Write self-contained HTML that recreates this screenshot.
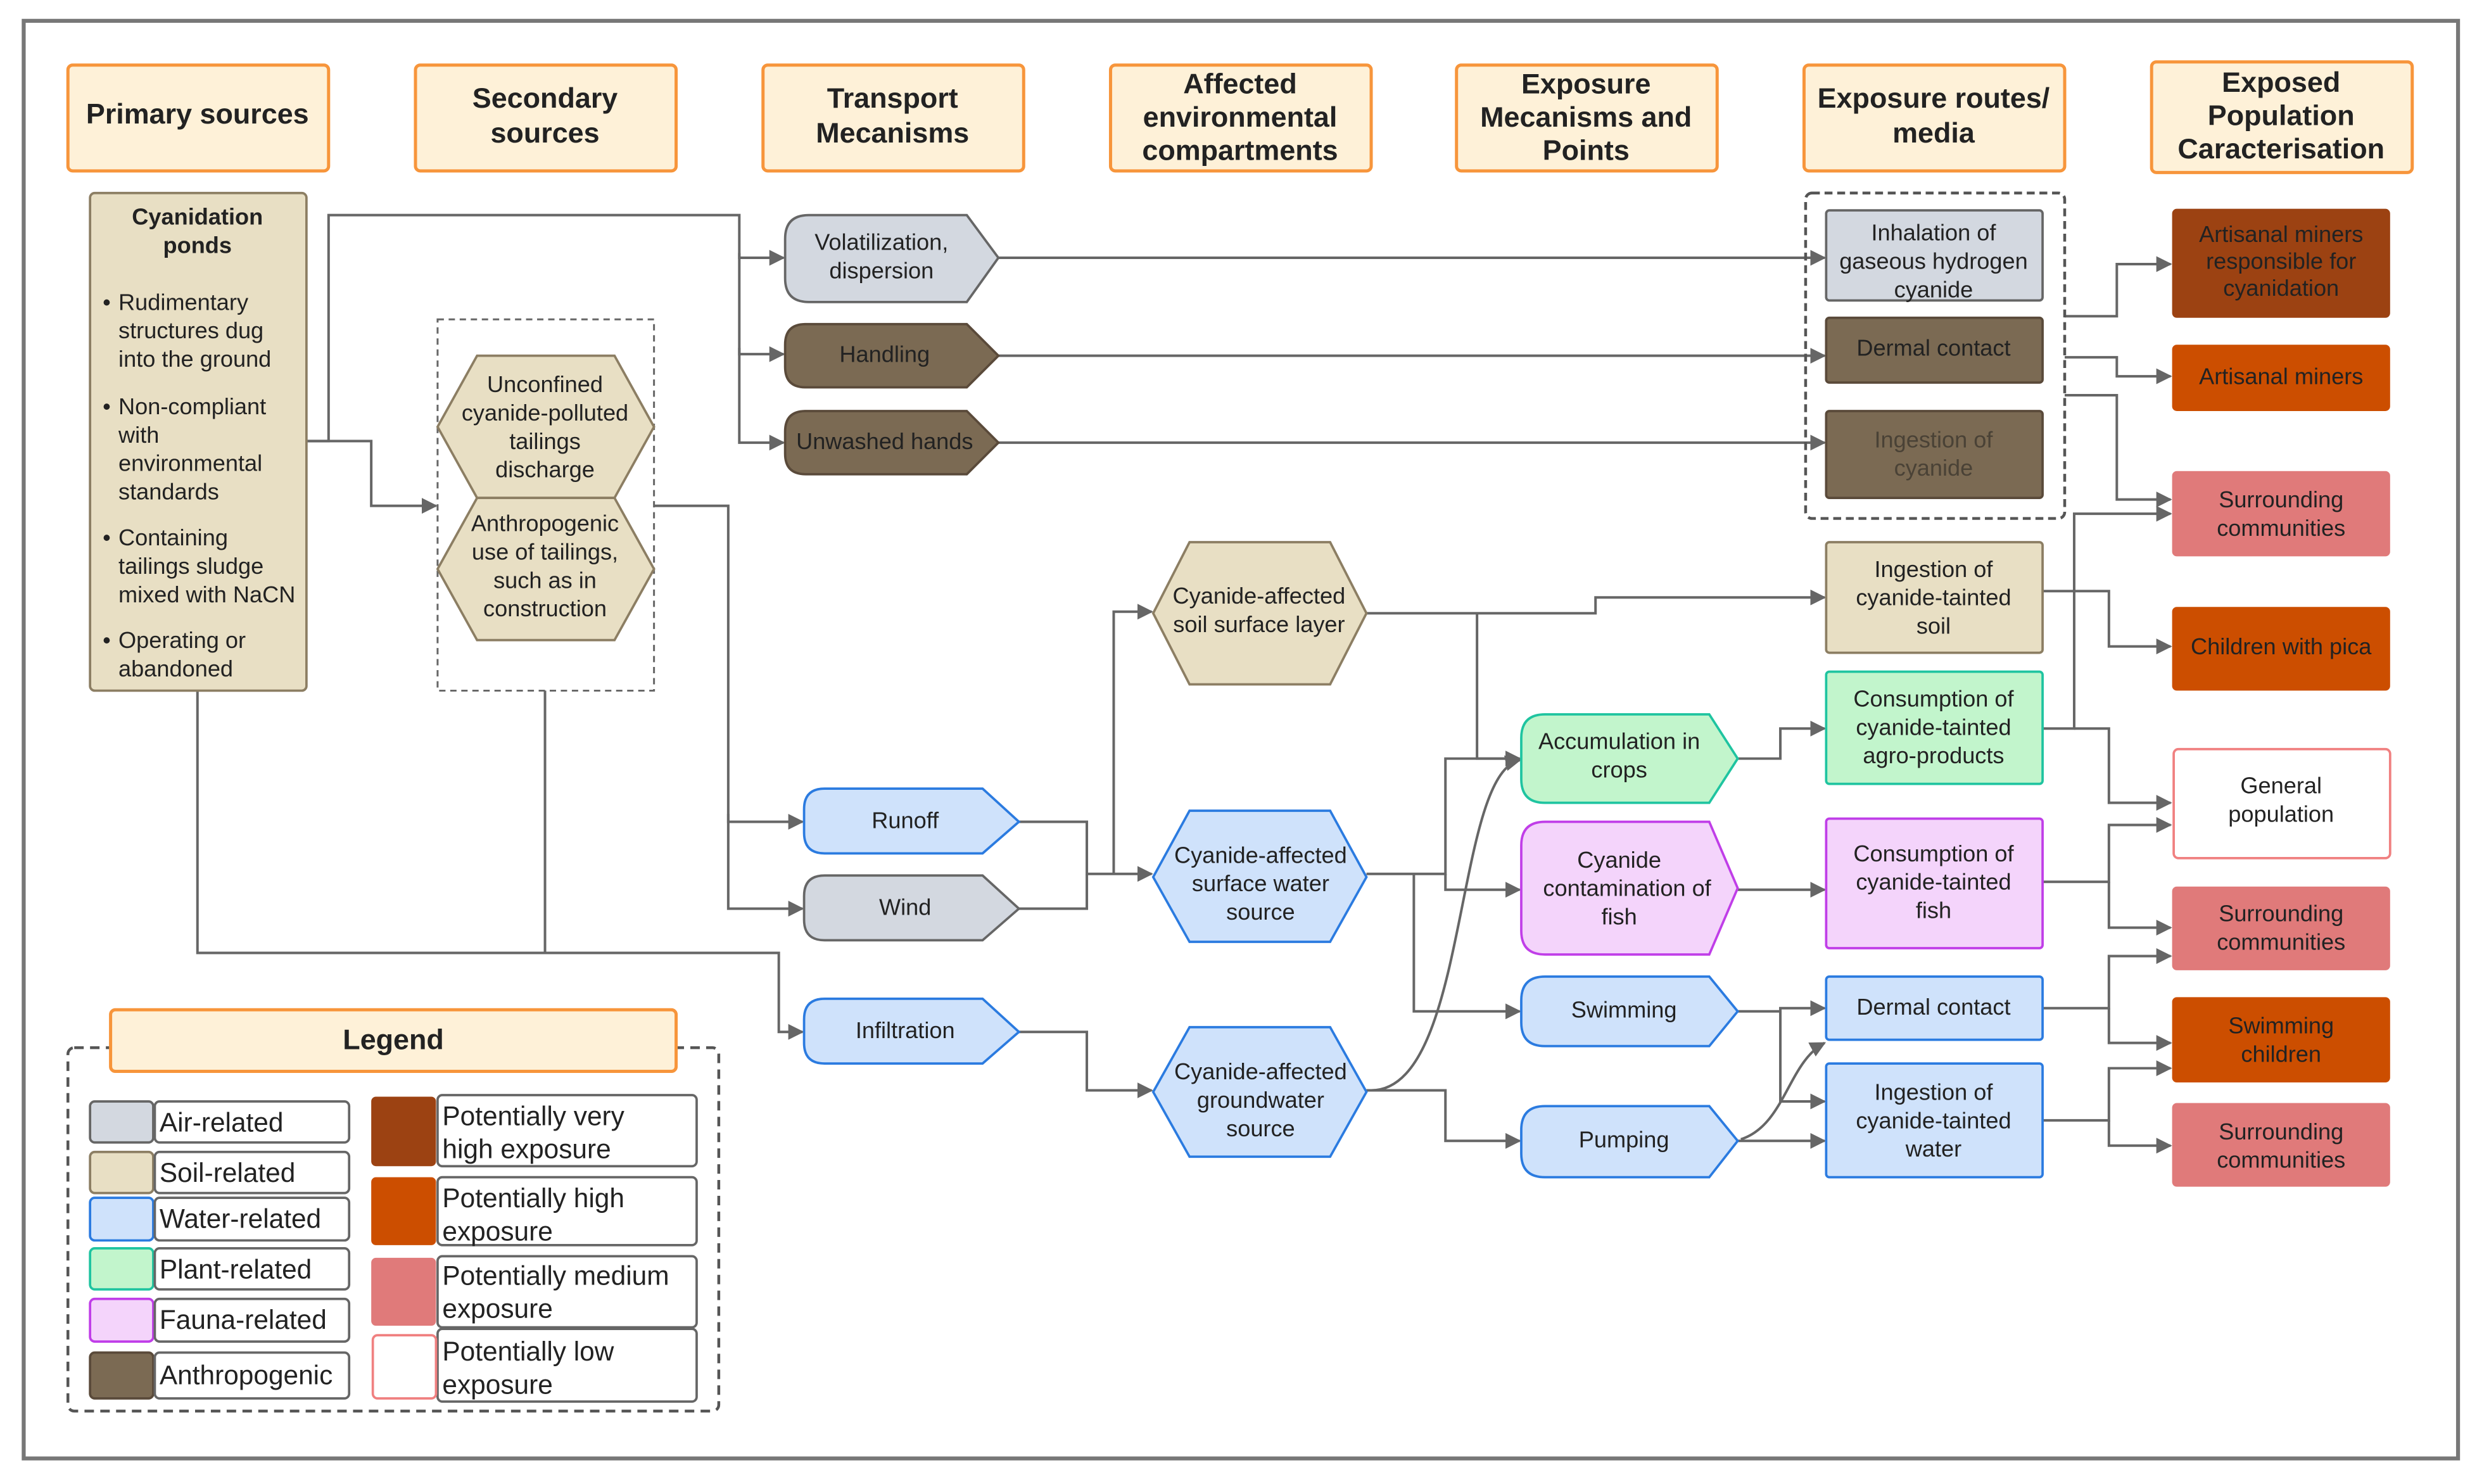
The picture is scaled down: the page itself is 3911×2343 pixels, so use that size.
<!DOCTYPE html>
<html><head><meta charset="utf-8"><style>
html,body{margin:0;padding:0;background:#fff;}
svg{display:block;}
text{font-family:"Liberation Sans",sans-serif;fill:#222;}
.h{font-weight:bold;font-size:18px;text-anchor:middle;fill:#222;}
.t{font-size:14.5px;text-anchor:middle;}
.l{font-size:17px;}
.c{fill:none;stroke:#666;stroke-width:1.6;}
</style></head><body>
<svg width="3911" height="2343" viewBox="0 0 1568 939" xmlns="http://www.w3.org/2000/svg">
<defs><marker id="a" markerWidth="10" markerHeight="10" refX="9" refY="5" orient="auto" markerUnits="userSpaceOnUse"><path d="M0,0 L10,5 L0,10 Z" fill="#666"/></marker></defs>
<rect width="1568" height="939" fill="#fff"/>
<rect x="15" y="13" width="1541" height="910" fill="none" stroke="#777" stroke-width="2.5"/>

<!-- headers -->
<g fill="#fef1d8" stroke="#f7953b" stroke-width="2">
<rect x="43" y="41" width="165" height="67" rx="3"/>
<rect x="263" y="41" width="165" height="67" rx="3"/>
<rect x="483" y="41" width="165" height="67" rx="3"/>
<rect x="703" y="41" width="165" height="67" rx="3"/>
<rect x="922" y="41" width="165" height="67" rx="3"/>
<rect x="1142" y="41" width="165" height="67" rx="3"/>
<rect x="1362" y="39" width="165" height="70" rx="3"/>
</g>
<text class="h" x="125" y="78">Primary sources</text>
<text class="h" x="345" y="68">Secondary<tspan x="345" dy="22">sources</tspan></text>
<text class="h" x="565" y="68">Transport<tspan x="565" dy="22">Mecanisms</tspan></text>
<text class="h" x="785" y="59">Affected<tspan x="785" dy="21">environmental</tspan><tspan x="785" dy="21">compartments</tspan></text>
<text class="h" x="1004" y="59">Exposure<tspan x="1004" dy="21">Mecanisms and</tspan><tspan x="1004" dy="21">Points</tspan></text>
<text class="h" x="1224" y="68">Exposure routes/<tspan x="1224" dy="22">media</tspan></text>
<text class="h" x="1444" y="58">Exposed<tspan x="1444" dy="21">Population</tspan><tspan x="1444" dy="21">Caracterisation</tspan></text>

<!-- connectors -->
<g class="c">
<path d="M194,279 H208 V136 H468 V163 H496" marker-end="url(#a)"/>
<path d="M468,160 V224 H496" marker-end="url(#a)"/>
<path d="M468,220 V280 H496" marker-end="url(#a)"/>
<path d="M194,279 H235 V320 H276" marker-end="url(#a)"/>
<path d="M632,163 H1155" marker-end="url(#a)"/>
<path d="M632,225 H1155" marker-end="url(#a)"/>
<path d="M632,280 H1155" marker-end="url(#a)"/>
<path d="M414,320 H461 V520 H508" marker-end="url(#a)"/>
<path d="M461,515 V575 H508" marker-end="url(#a)"/>
<path d="M125,437 V603 H493 V653 H508" marker-end="url(#a)"/>
<path d="M345,437 V603"/>
<path d="M645,520 H688 V553 H729" marker-end="url(#a)"/>
<path d="M645,575 H688 V553"/>
<path d="M705,553 V387 H729" marker-end="url(#a)"/>
<path d="M645,653 H688 V690 H729" marker-end="url(#a)"/>
<path d="M865,388 H1010 V378 H1155" marker-end="url(#a)"/>
<path d="M935,388 V480 H962" marker-end="url(#a)"/>
<path d="M865,553 H915 V480 H962" marker-end="url(#a)"/>
<path d="M915,553 V563 H962" marker-end="url(#a)"/>
<path d="M895,553 V640 H962" marker-end="url(#a)"/>
<path d="M868,690 C930,690 920,490 962,481" marker-end="url(#a)"/>
<path d="M865,690 H915 V722 H962" marker-end="url(#a)"/>
<path d="M1100,480 H1127 V461 H1155" marker-end="url(#a)"/>
<path d="M1100,563 H1155" marker-end="url(#a)"/>
<path d="M1100,640 H1127 V638 H1155" marker-end="url(#a)"/>
<path d="M1127,640 V697 H1155" marker-end="url(#a)"/>
<path d="M1100,722 H1155" marker-end="url(#a)"/>
<path d="M1102,721 C1130,712 1132,672 1155,660" marker-end="url(#a)"/>
<path d="M1307,200 H1340 V167 H1374" marker-end="url(#a)"/>
<path d="M1307,226 H1340 V238 H1374" marker-end="url(#a)"/>
<path d="M1307,250 H1340 V316 H1374" marker-end="url(#a)"/>
<path d="M1293,374 H1335 V409 H1374" marker-end="url(#a)"/>
<path d="M1293,461 H1313 V325 H1374" marker-end="url(#a)"/>
<path d="M1313,461 H1335 V508 H1374" marker-end="url(#a)"/>
<path d="M1293,558 H1335 V522 H1374" marker-end="url(#a)"/>
<path d="M1335,558 V587 H1374" marker-end="url(#a)"/>
<path d="M1293,638 H1335 V605 H1374" marker-end="url(#a)"/>
<path d="M1335,638 V660 H1374" marker-end="url(#a)"/>
<path d="M1293,709 H1335 V676 H1374" marker-end="url(#a)"/>
<path d="M1335,709 V725 H1374" marker-end="url(#a)"/>
</g>

<!-- primary -->
<rect x="57" y="122" width="137" height="315" rx="3" fill="#e8dfc4" stroke="#8c7e63" stroke-width="1.5"/>
<text class="t" x="125" y="142" style="font-weight:bold">Cyanidation<tspan x="125" dy="18">ponds</tspan></text>
<g class="t" style="text-anchor:start">
<text x="65" y="196" style="text-anchor:start;font-size:14.5px">•<tspan x="75">Rudimentary</tspan><tspan x="75" dy="18">structures dug</tspan><tspan x="75" dy="18">into the ground</tspan></text>
<text x="65" y="262" style="text-anchor:start;font-size:14.5px">•<tspan x="75">Non-compliant</tspan><tspan x="75" dy="18">with</tspan><tspan x="75" dy="18">environmental</tspan><tspan x="75" dy="18">standards</tspan></text>
<text x="65" y="345" style="text-anchor:start;font-size:14.5px">•<tspan x="75">Containing</tspan><tspan x="75" dy="18">tailings sludge</tspan><tspan x="75" dy="18">mixed with NaCN</tspan></text>
<text x="65" y="410" style="text-anchor:start;font-size:14.5px">•<tspan x="75">Operating or</tspan><tspan x="75" dy="18">abandoned</tspan></text>
</g>

<!-- secondary -->
<rect x="277" y="202" width="137" height="235" fill="none" stroke="#666" stroke-width="1.2" stroke-dasharray="4,3"/>
<path d="M302,225 H389 L414,270 L389,315 H302 L277,270 Z" fill="#e8dfc4" stroke="#8c7e63" stroke-width="1.5"/>
<path d="M302,315 H389 L414,360 L389,405 H302 L277,360 Z" fill="#e8dfc4" stroke="#8c7e63" stroke-width="1.5"/>
<text class="t" x="345" y="248">Unconfined<tspan x="345" dy="18">cyanide-polluted</tspan><tspan x="345" dy="18">tailings</tspan><tspan x="345" dy="18">discharge</tspan></text>
<text class="t" x="345" y="336">Anthropogenic<tspan x="345" dy="18">use of tailings,</tspan><tspan x="345" dy="18">such as in</tspan><tspan x="345" dy="18">construction</tspan></text>

<!-- transport -->
<path d="M512,136 H612 L632,163 L612,191 H512 Q497,191 497,176 V151 Q497,136 512,136 Z" fill="#d3d8e0" stroke="#666" stroke-width="1.5"/>
<text class="t" x="558" y="158">Volatilization,<tspan x="558" dy="18">dispersion</tspan></text>
<path d="M510,205 H612 L632,225 L612,245 H510 Q497,245 497,232 V218 Q497,205 510,205 Z" fill="#7b6a53" stroke="#5a4a3a" stroke-width="1.5"/>
<text class="t" x="560" y="229">Handling</text>
<path d="M510,260 H612 L632,280 L612,300 H510 Q497,300 497,287 V273 Q497,260 510,260 Z" fill="#7b6a53" stroke="#5a4a3a" stroke-width="1.5"/>
<text class="t" x="560" y="284">Unwashed hands</text>
<path d="M522,499 H622 L645,520 L622,540 H522 Q509,540 509,527 V512 Q509,499 522,499 Z" fill="#cfe2fb" stroke="#2b7be0" stroke-width="1.5"/>
<text class="t" x="573" y="524">Runoff</text>
<path d="M522,554 H622 L645,575 L622,595 H522 Q509,595 509,582 V567 Q509,554 522,554 Z" fill="#d3d8e0" stroke="#666" stroke-width="1.5"/>
<text class="t" x="573" y="579">Wind</text>
<path d="M522,632 H622 L645,653 L622,673 H522 Q509,673 509,660 V645 Q509,632 522,632 Z" fill="#cfe2fb" stroke="#2b7be0" stroke-width="1.5"/>
<text class="t" x="573" y="657">Infiltration</text>

<!-- compartments -->
<path d="M753,343 H842 L865,388 L842,433 H753 L730,388 Z" fill="#e8dfc4" stroke="#8c7e63" stroke-width="1.5"/>
<text class="t" x="797" y="382">Cyanide-affected<tspan x="797" dy="18">soil surface layer</tspan></text>
<path d="M753,513 H842 L865,555 L842,596 H753 L730,555 Z" fill="#cfe2fb" stroke="#2b7be0" stroke-width="1.5"/>
<text class="t" x="798" y="546">Cyanide-affected<tspan x="798" dy="18">surface water</tspan><tspan x="798" dy="18">source</tspan></text>
<path d="M753,650 H842 L865,691 L842,732 H753 L730,691 Z" fill="#cfe2fb" stroke="#2b7be0" stroke-width="1.5"/>
<text class="t" x="798" y="683">Cyanide-affected<tspan x="798" dy="18">groundwater</tspan><tspan x="798" dy="18">source</tspan></text>

<!-- exposure mechanisms -->
<path d="M978,452 H1082 L1100,480 L1082,508 H978 Q963,508 963,493 V467 Q963,452 978,452 Z" fill="#c2f5cc" stroke="#1fc4a0" stroke-width="1.5"/>
<text class="t" x="1025" y="474">Accumulation in<tspan x="1025" dy="18">crops</tspan></text>
<path d="M978,520 H1082 L1100,562 L1082,604 H978 Q963,604 963,589 V535 Q963,520 978,520 Z" fill="#f4d4fb" stroke="#c03ee8" stroke-width="1.5"/>
<text class="t" x="1025" y="549">Cyanide<tspan x="1030" dy="18">contamination of</tspan><tspan x="1025" dy="18">fish</tspan></text>
<path d="M978,618 H1082 L1100,640 L1082,662 H978 Q963,662 963,647 V633 Q963,618 978,618 Z" fill="#cfe2fb" stroke="#2b7be0" stroke-width="1.5"/>
<text class="t" x="1028" y="644">Swimming</text>
<path d="M978,700 H1082 L1100,722 L1082,745 H978 Q963,745 963,730 V715 Q963,700 978,700 Z" fill="#cfe2fb" stroke="#2b7be0" stroke-width="1.5"/>
<text class="t" x="1028" y="726">Pumping</text>

<!-- routes -->
<rect x="1143" y="122" width="164" height="206" rx="4" fill="none" stroke="#555" stroke-width="1.8" stroke-dasharray="5,3"/>
<rect x="1156" y="133" width="137" height="57" rx="2" fill="#d3d8e0" stroke="#666" stroke-width="1.5"/>
<text class="t" x="1224" y="152">Inhalation of<tspan x="1224" dy="18">gaseous hydrogen</tspan><tspan x="1224" dy="18">cyanide</tspan></text>
<rect x="1156" y="201" width="137" height="41" rx="2" fill="#7b6a53" stroke="#5a4a3a" stroke-width="1.5"/>
<text class="t" x="1224" y="225">Dermal contact</text>
<rect x="1156" y="260" width="137" height="55" rx="2" fill="#7b6a53" stroke="#5a4a3a" stroke-width="1.5"/>
<text class="t" x="1224" y="283" style="fill:#4a4236">Ingestion of<tspan x="1224" dy="18">cyanide</tspan></text>
<rect x="1156" y="343" width="137" height="70" rx="2" fill="#e8dfc4" stroke="#8c7e63" stroke-width="1.5"/>
<text class="t" x="1224" y="365">Ingestion of<tspan x="1224" dy="18">cyanide-tainted</tspan><tspan x="1224" dy="18">soil</tspan></text>
<rect x="1156" y="425" width="137" height="71" rx="2" fill="#c2f5cc" stroke="#1fc4a0" stroke-width="1.5"/>
<text class="t" x="1224" y="447">Consumption of<tspan x="1224" dy="18">cyanide-tainted</tspan><tspan x="1224" dy="18">agro-products</tspan></text>
<rect x="1156" y="518" width="137" height="82" rx="2" fill="#f4d4fb" stroke="#c03ee8" stroke-width="1.5"/>
<text class="t" x="1224" y="545">Consumption of<tspan x="1224" dy="18">cyanide-tainted</tspan><tspan x="1224" dy="18">fish</tspan></text>
<rect x="1156" y="618" width="137" height="40" rx="2" fill="#cfe2fb" stroke="#2b7be0" stroke-width="1.5"/>
<text class="t" x="1224" y="642">Dermal contact</text>
<rect x="1156" y="673" width="137" height="72" rx="2" fill="#cfe2fb" stroke="#2b7be0" stroke-width="1.5"/>
<text class="t" x="1224" y="696">Ingestion of<tspan x="1224" dy="18">cyanide-tainted</tspan><tspan x="1224" dy="18">water</tspan></text>

<!-- population -->
<rect x="1375" y="132" width="138" height="69" rx="3" fill="#9c4212"/>
<text class="t" x="1444" y="153">Artisanal miners<tspan x="1444" dy="17">responsible for</tspan><tspan x="1444" dy="17">cyanidation</tspan></text>
<rect x="1375" y="218" width="138" height="42" rx="3" fill="#cc4e00"/>
<text class="t" x="1444" y="243">Artisanal miners</text>
<rect x="1375" y="298" width="138" height="54" rx="3" fill="#e07a7a"/>
<text class="t" x="1444" y="321">Surrounding<tspan x="1444" dy="18">communities</tspan></text>
<rect x="1375" y="384" width="138" height="53" rx="3" fill="#cc4e00"/>
<text class="t" x="1444" y="414">Children with pica</text>
<rect x="1376" y="474" width="137" height="69" rx="3" fill="#fff" stroke="#f08080" stroke-width="1.5"/>
<text class="t" x="1444" y="502">General<tspan x="1444" dy="18">population</tspan></text>
<rect x="1375" y="561" width="138" height="53" rx="3" fill="#e07a7a"/>
<text class="t" x="1444" y="583">Surrounding<tspan x="1444" dy="18">communities</tspan></text>
<rect x="1375" y="631" width="138" height="54" rx="3" fill="#cc4e00"/>
<text class="t" x="1444" y="654">Swimming<tspan x="1444" dy="18">children</tspan></text>
<rect x="1375" y="698" width="138" height="53" rx="3" fill="#e07a7a"/>
<text class="t" x="1444" y="721">Surrounding<tspan x="1444" dy="18">communities</tspan></text>

<!-- legend -->
<rect x="43" y="663" width="412" height="230" rx="4" fill="none" stroke="#555" stroke-width="1.8" stroke-dasharray="6,4"/>
<rect x="70" y="639" width="358" height="39" rx="3" fill="#fef1d8" stroke="#f7953b" stroke-width="2"/>
<text class="h" x="249" y="664">Legend</text>
<g stroke-width="1.5">
<rect x="57" y="697" width="40" height="26" rx="3" fill="#d3d8e0" stroke="#666"/>
<rect x="57" y="729" width="40" height="26" rx="3" fill="#e8dfc4" stroke="#8c7e63"/>
<rect x="57" y="758" width="40" height="27" rx="3" fill="#cfe2fb" stroke="#2b7be0"/>
<rect x="57" y="790" width="40" height="26" rx="3" fill="#c2f5cc" stroke="#1fc4a0"/>
<rect x="57" y="822" width="40" height="27" rx="3" fill="#f4d4fb" stroke="#c03ee8"/>
<rect x="57" y="856" width="40" height="29" rx="3" fill="#7b6a53" stroke="#5a4a3a"/>
<g fill="#fff" stroke="#666">
<rect x="98" y="697" width="123" height="26" rx="3"/>
<rect x="98" y="729" width="123" height="26" rx="3"/>
<rect x="98" y="758" width="123" height="27" rx="3"/>
<rect x="98" y="790" width="123" height="26" rx="3"/>
<rect x="98" y="822" width="123" height="27" rx="3"/>
<rect x="98" y="856" width="123" height="29" rx="3"/>
<rect x="277" y="693" width="164" height="45" rx="3"/>
<rect x="277" y="745" width="164" height="43" rx="3"/>
<rect x="277" y="795" width="164" height="45" rx="3"/>
<rect x="277" y="841" width="164" height="46" rx="3"/>
</g>
<rect x="235" y="694" width="41" height="44" rx="3" fill="#9c4212" stroke="none"/>
<rect x="235" y="745" width="41" height="43" rx="3" fill="#cc4e00" stroke="none"/>
<rect x="235" y="796" width="41" height="43" rx="3" fill="#e07a7a" stroke="none"/>
<rect x="236" y="845" width="40" height="40" rx="3" fill="#fff" stroke="#f08080"/>
</g>
<g class="l">
<text x="101" y="716">Air-related</text>
<text x="101" y="748">Soil-related</text>
<text x="101" y="777">Water-related</text>
<text x="101" y="809">Plant-related</text>
<text x="101" y="841">Fauna-related</text>
<text x="101" y="876">Anthropogenic</text>
<text x="280" y="712">Potentially very<tspan x="280" dy="21">high exposure</tspan></text>
<text x="280" y="764">Potentially high<tspan x="280" dy="21">exposure</tspan></text>
<text x="280" y="813">Potentially medium<tspan x="280" dy="21">exposure</tspan></text>
<text x="280" y="861">Potentially low<tspan x="280" dy="21">exposure</tspan></text>
</g>
</svg>
</body></html>
